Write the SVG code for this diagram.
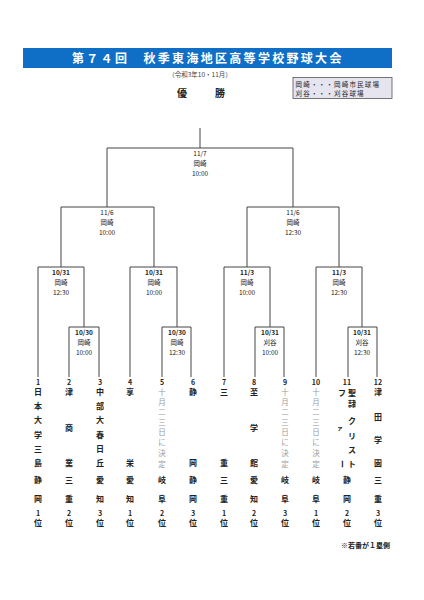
<svg xmlns="http://www.w3.org/2000/svg" width="424" height="600" viewBox="0 0 424 600">
<style>
text{font-family:"Noto Sans CJK JP","Noto Sans",sans-serif;fill:#222}
.ttl{font-size:12px;font-weight:bold;fill:#fff;letter-spacing:2.3px}
.sub{font-size:6.5px;text-anchor:middle;fill:#444}
.win{font-size:10px;font-weight:bold;text-anchor:middle}
.leg{font-size:6.5px;letter-spacing:1.2px}
.lb{font-size:6.5px;text-anchor:middle}
.lbb{font-size:6.5px;text-anchor:middle;font-weight:bold}
.num{font-size:7px;font-weight:bold;text-anchor:middle}
.n{font-size:8px;font-weight:bold;text-anchor:middle}
.g{font-size:7.5px;text-anchor:middle;fill:#9a9a9a}
.wire{fill:none;stroke:#444;stroke-width:1}
.foot{font-size:7px;font-weight:bold;text-anchor:end}
</style>
<rect width="424" height="600" fill="#fff"/>
<g id="title">
<rect x="23" y="48" width="369" height="20" fill="#0f6fc6"/>
<text class="ttl" x="72" y="62.5">第７４回　秋季東海地区高等学校野球大会</text>
<text class="sub" x="200" y="76.5">（令和3年10・11月）</text>
</g>
<g id="winner">
<text class="win" x="182" y="96.5">優</text>
<text class="win" x="220" y="96.5">勝</text>
</g>
<g id="legend">
<rect x="293" y="77.5" width="99" height="21" fill="#e6e4ef" stroke="#555" stroke-width="0.8"/>
<text class="leg" x="295.5" y="86.8">岡崎・・・岡崎市民球場</text>
<text class="leg" x="295.5" y="96.3">刈谷・・・刈谷球場</text>
</g>
<g id="connectors" class="wire">
<path d="M200 128V148M107 207V148H293V207"/>
<path d="M61 267V207H154V267"/>
<path d="M247 267V207H339V267"/>
<path d="M38 377V267H84V327"/>
<path d="M69 377V327H99V377"/>
<path d="M130 377V267H177V327"/>
<path d="M162 377V327H191V377"/>
<path d="M224 377V267H270V327"/>
<path d="M255 377V327H284V377"/>
<path d="M316 377V267H362V327"/>
<path d="M348 377V327H377V377"/>
</g>
<g id="final"><text class="lb" x="200" y="155.5">11/7</text><text class="lb" x="200" y="165.5">岡崎</text><text class="lb" x="200" y="175.5">10:00</text></g>
<g id="semi-left"><text class="lb" x="107" y="214.5">11/6</text><text class="lb" x="107" y="224.5">岡崎</text><text class="lb" x="107" y="234.5">10:00</text></g>
<g id="semi-right"><text class="lb" x="293" y="214.5">11/6</text><text class="lb" x="293" y="224.5">岡崎</text><text class="lb" x="293" y="234.5">12:30</text></g>
<g id="qf1"><text class="lbb" x="61" y="274.5">10/31</text><text class="lb" x="61" y="284.5">岡崎</text><text class="lb" x="61" y="294.5">12:30</text></g>
<g id="qf2"><text class="lbb" x="154" y="274.5">10/31</text><text class="lb" x="154" y="284.5">岡崎</text><text class="lb" x="154" y="294.5">10:00</text></g>
<g id="qf3"><text class="lbb" x="247" y="274.5">11/3</text><text class="lb" x="247" y="284.5">岡崎</text><text class="lb" x="247" y="294.5">10:00</text></g>
<g id="qf4"><text class="lbb" x="339" y="274.5">11/3</text><text class="lb" x="339" y="284.5">岡崎</text><text class="lb" x="339" y="294.5">12:30</text></g>
<g id="r1a"><text class="lbb" x="84" y="334.5">10/30</text><text class="lb" x="84" y="344.5">岡崎</text><text class="lb" x="84" y="354.5">10:00</text></g>
<g id="r1b"><text class="lbb" x="177" y="334.5">10/30</text><text class="lb" x="177" y="344.5">岡崎</text><text class="lb" x="177" y="354.5">12:30</text></g>
<g id="r1c"><text class="lbb" x="270" y="334.5">10/31</text><text class="lb" x="270" y="344.5">刈谷</text><text class="lb" x="270" y="354.5">10:00</text></g>
<g id="r1d"><text class="lbb" x="362" y="334.5">10/31</text><text class="lb" x="362" y="344.5">刈谷</text><text class="lb" x="362" y="354.5">12:30</text></g>
<g id="team1"><text class="num" x="38" y="384.5">1</text>
<text class="n" x="38" y="395">日</text><text class="n" x="38" y="409">本</text><text class="n" x="38" y="423">大</text><text class="n" x="38" y="438">学</text><text class="n" x="38" y="452">三</text><text class="n" x="38" y="466">島</text>
<text class="n" x="38" y="483">静</text><text class="n" x="38" y="502">岡</text><text class="num" x="38" y="515.5">1</text><text class="n" x="38" y="526">位</text></g>
<g id="team2"><text class="num" x="69" y="384.5">2</text>
<text class="n" x="69" y="395">津</text><text class="n" x="69" y="431">商</text><text class="n" x="69" y="466">業</text>
<text class="n" x="69" y="483">三</text><text class="n" x="69" y="502">重</text><text class="num" x="69" y="515.5">2</text><text class="n" x="69" y="526">位</text></g>
<g id="team3"><text class="num" x="100" y="384.5">3</text>
<text class="n" x="100" y="395">中</text><text class="n" x="100" y="409">部</text><text class="n" x="100" y="423">大</text><text class="n" x="100" y="438">春</text><text class="n" x="100" y="452">日</text><text class="n" x="100" y="466">丘</text>
<text class="n" x="100" y="483">愛</text><text class="n" x="100" y="502">知</text><text class="num" x="100" y="515.5">3</text><text class="n" x="100" y="526">位</text></g>
<g id="team4"><text class="num" x="130" y="384.5">4</text>
<text class="n" x="130" y="395">享</text><text class="n" x="130" y="466">栄</text>
<text class="n" x="130" y="483">愛</text><text class="n" x="130" y="502">知</text><text class="num" x="130" y="515.5">1</text><text class="n" x="130" y="526">位</text></g>
<g id="team5"><text class="num" x="162" y="384.5">5</text>
<text class="g" x="162" y="395">十</text><text class="g" x="162" y="405">月</text><text class="g" x="162" y="415">二</text><text class="g" x="162" y="425">三</text><text class="g" x="162" y="435">日</text><text class="g" x="162" y="445">に</text><text class="g" x="162" y="456">決</text><text class="g" x="162" y="467">定</text>
<text class="n" x="162" y="483">岐</text><text class="n" x="162" y="502">阜</text><text class="num" x="162" y="515.5">2</text><text class="n" x="162" y="526">位</text></g>
<g id="team6"><text class="num" x="193" y="384.5">6</text>
<text class="n" x="193" y="395">静</text><text class="n" x="193" y="466">岡</text>
<text class="n" x="193" y="483">静</text><text class="n" x="193" y="502">岡</text><text class="num" x="193" y="515.5">3</text><text class="n" x="193" y="526">位</text></g>
<g id="team7"><text class="num" x="224" y="384.5">7</text>
<text class="n" x="224" y="395">三</text><text class="n" x="224" y="466">重</text>
<text class="n" x="224" y="483">三</text><text class="n" x="224" y="502">重</text><text class="num" x="224" y="515.5">1</text><text class="n" x="224" y="526">位</text></g>
<g id="team8"><text class="num" x="254" y="384.5">8</text>
<text class="n" x="254" y="395">至</text><text class="n" x="254" y="431">学</text><text class="n" x="254" y="466">館</text>
<text class="n" x="254" y="483">愛</text><text class="n" x="254" y="502">知</text><text class="num" x="254" y="515.5">2</text><text class="n" x="254" y="526">位</text></g>
<g id="team9"><text class="num" x="285" y="384.5">9</text>
<text class="g" x="285" y="395">十</text><text class="g" x="285" y="405">月</text><text class="g" x="285" y="415">二</text><text class="g" x="285" y="425">三</text><text class="g" x="285" y="435">日</text><text class="g" x="285" y="445">に</text><text class="g" x="285" y="456">決</text><text class="g" x="285" y="467">定</text>
<text class="n" x="285" y="483">岐</text><text class="n" x="285" y="502">阜</text><text class="num" x="285" y="515.5">3</text><text class="n" x="285" y="526">位</text></g>
<g id="team10"><text class="num" x="316" y="384.5">10</text>
<text class="g" x="316" y="395">十</text><text class="g" x="316" y="405">月</text><text class="g" x="316" y="415">二</text><text class="g" x="316" y="425">三</text><text class="g" x="316" y="435">日</text><text class="g" x="316" y="445">に</text><text class="g" x="316" y="456">決</text><text class="g" x="316" y="467">定</text>
<text class="n" x="316" y="483">岐</text><text class="n" x="316" y="502">阜</text><text class="num" x="316" y="515.5">1</text><text class="n" x="316" y="526">位</text></g>
<g id="team11"><text class="num" x="347" y="384.5">11</text>
<text class="n" x="352" y="396">聖</text><text class="n" x="352" y="407">隷</text><text class="n" x="352" y="424">ク</text><text class="n" x="352" y="439">リ</text><text class="n" x="352" y="453">ス</text><text class="n" x="352" y="467">ト</text>
<text class="n" x="342" y="396">フ</text><text class="n" x="340" y="430" style="font-size:6px">ァ</text><text class="n" x="342" y="467" transform="rotate(90 342 464)">ー</text>
<text class="n" x="347" y="483">静</text><text class="n" x="347" y="502">岡</text><text class="num" x="347" y="515.5">2</text><text class="n" x="347" y="526">位</text></g>
<g id="team12"><text class="num" x="378" y="384.5">12</text>
<text class="n" x="378" y="395">津</text><text class="n" x="378" y="420">田</text><text class="n" x="378" y="443">学</text><text class="n" x="378" y="466">園</text>
<text class="n" x="378" y="483">三</text><text class="n" x="378" y="502">重</text><text class="num" x="378" y="515.5">3</text><text class="n" x="378" y="526">位</text></g>
<g id="note"><text class="foot" x="390" y="548">※若番が１塁側</text></g>
</svg>
